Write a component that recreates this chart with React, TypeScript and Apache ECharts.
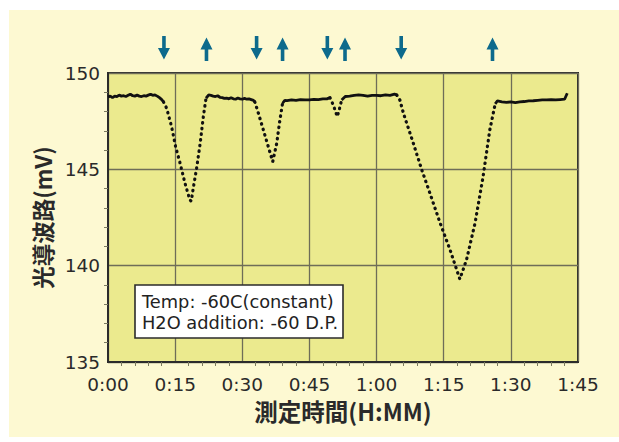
import React, { useEffect, useRef } from "react";
import * as echarts from "echarts";

// x: minutes since start, y: mV
const xTicks = [0, 15, 30, 45, 60, 75, 90, 105];
const yTicks = [135, 140, 145, 150];

const flat1 = [[0,148.75],[0.5,148.8],[1,148.72],[1.5,148.8],[2,148.78],[2.5,148.85],[3,148.8],[3.5,148.82],[4,148.78],[4.5,148.84],[5,148.9],[5.5,148.82],[6,148.8],[6.5,148.85],[7,148.8],[7.5,148.78],[8,148.82],[8.5,148.8],[9,148.85],[9.5,148.9],[10,148.84],[10.5,148.86],[11,148.8],[11.5,148.72],[12,148.62],[12.4,148.5]];
const dip1 = [[12.4,148.5],[13.1,148.17],[14.2,147.22],[15.1,146.18],[16.1,145.32],[17.2,144.28],[18.3,143.4],[18.6,143.35],[19.1,144.1],[19.8,145.06],[20.6,146.36],[21.3,147.74],[21.9,148.69]];
const flat2 = [[21.9,148.69],[22.5,148.86],[23,148.84],[23.5,148.8],[24,148.78],[24.5,148.82],[25,148.74],[25.5,148.72],[26,148.68],[26.5,148.7],[27,148.66],[27.5,148.72],[28,148.66],[28.5,148.64],[29,148.7],[29.5,148.66],[30,148.64],[30.5,148.68],[31,148.64],[31.5,148.66],[32,148.62],[32.5,148.58],[32.8,148.5]];
const dip2 = [[32.8,148.5],[33.6,147.91],[34.7,147.05],[35.8,146.18],[36.8,145.4],[37.7,146.36],[38.4,147.56],[39.0,148.43]];
const flat3 = [[39.0,148.43],[39.5,148.58],[40,148.56],[41,148.6],[42,148.58],[43,148.62],[44,148.6],[45,148.6],[46,148.63],[47,148.62],[48,148.66],[48.9,148.66],[49.6,148.72]];
const dip3 = [[49.6,148.72],[50.4,148.3],[51.2,147.74],[51.5,147.95],[52.2,148.6]];
const flat4 = [[52.2,148.6],[53,148.78],[54,148.8],[55,148.84],[56,148.86],[57,148.84],[58,148.8],[59,148.84],[60,148.84],[61,148.82],[62,148.86],[63,148.84],[64,148.9],[64.5,148.86]];
const dip4 = [[64.5,148.86],[65.2,148.6],[66.0,147.91],[68.2,146.36],[70.1,144.97],[71.9,143.77],[74.2,142.21],[76.4,140.83],[78.6,139.3],[80.1,140.31],[82.0,142.21],[83.8,144.63],[85.3,147.05],[86.5,148.4]];
const flat5 = [[86.5,148.4],[87,148.55],[88,148.5],[89,148.48],[90,148.5],[91,148.46],[92,148.5],[93,148.52],[94,148.55],[95,148.56],[96,148.58],[97,148.6],[98,148.6],[99,148.62],[100,148.6],[101,148.62],[102,148.64],[102.6,148.95]];

const downArrowTimes = [12.5, 33.2, 49.0, 65.5];
const upArrowTimes = [22.0, 39.0, 52.95, 85.9];

const noteLines = ["Temp: -60C(constant)", "H2O addition: -60 D.P."];

const fmtTime = (v: number) => {
  const h = Math.floor(v / 60);
  const m = Math.round(v % 60);
  return `${h}:${m < 10 ? "0" + m : m}`;
};

export default function App() {
  const ref = useRef<HTMLDivElement>(null);
  useEffect(() => {
    document.body.style.margin = "0";
    const chart = echarts.init(ref.current!, null, { renderer: "svg" });
    const flats = [flat1, flat2, flat3, flat4, flat5];
    const dips = [dip1, dip2, dip3, dip4];
    const series: any[] = [];
    flats.forEach((d) =>
      series.push({
        type: "line",
        data: d,
        showSymbol: false,
        symbol: "none",
        lineStyle: { color: "#111", width: 2.8 },
        z: 5,
      })
    );
    dips.forEach((d) =>
      series.push({
        type: "line",
        data: d,
        showSymbol: false,
        symbol: "none",
        lineStyle: { color: "#111", width: 3.2, type: [0.5, 5.2], cap: "round" },
        z: 5,
      })
    );
    chart.setOption({
      animation: false,
      backgroundColor: "#ffffff",
      grid: {
        left: 108,
        right: 41,
        top: 73,
        bottom: 80,
        show: true,
        backgroundColor: "#ebea8e",
        borderColor: "#2b2b2b",
        borderWidth: 2,
      },
      xAxis: {
        type: "value",
        min: 0,
        max: 105,
        interval: 15,
        name: "測定時間(H:MM)",
        nameLocation: "middle",
        nameGap: 35,
        nameTextStyle: {
          fontFamily: "'Noto Sans CJK JP', sans-serif",
          fontSize: 23.5,
          fontWeight: "bold",
          color: "#2a2a2a",
        },
        axisLine: { show: true, lineStyle: { color: "#2b2b2b", width: 2 } },
        axisTick: { show: false },
        minorTick: { show: true, splitNumber: 5, length: 4, lineStyle: { color: "#7a7a60", width: 1 } },
        axisLabel: {
          formatter: (v: number) => fmtTime(v),
          fontFamily: "'DejaVu Sans', sans-serif",
          fontSize: 18.5,
          color: "#2a2a2a",
          margin: 13,
          customValues: xTicks,
        },
        splitLine: { show: true, lineStyle: { color: "#6e6d58", width: 1.3 } },
      },
      yAxis: {
        type: "value",
        min: 135,
        max: 150,
        interval: 5,
        name: "光導波路(mV)",
        nameLocation: "middle",
        nameRotate: 90,
        nameGap: 55,
        nameTextStyle: {
          fontFamily: "'Noto Sans CJK JP', sans-serif",
          fontSize: 22.5,
          fontWeight: "bold",
          color: "#2a2a2a",
        },
        axisLine: { show: true, lineStyle: { color: "#2b2b2b", width: 2 } },
        axisTick: { show: false },
        minorTick: { show: true, splitNumber: 5, length: 4, lineStyle: { color: "#7a7a60", width: 1 } },
        axisLabel: {
          fontFamily: "'DejaVu Sans', sans-serif",
          fontSize: 18.5,
          color: "#2a2a2a",
          margin: 8,
          customValues: yTicks,
        },
        splitLine: { show: true, lineStyle: { color: "#6e6d58", width: 1.3 } },
      },
      series,
    });

    const arrowColor = "#0d6a8c";
    const arrows: any[] = [];
    downArrowTimes.forEach((t) => {
      const x = chart.convertToPixel({ xAxisIndex: 0 }, t) as number;
      arrows.push({
        type: "polygon",
        shape: {
          points: [
            [x - 1.8, 36], [x + 1.8, 36], [x + 1.8, 48], [x + 6, 48], [x, 59.5], [x - 6, 48], [x - 1.8, 48],
          ],
        },
        style: { fill: arrowColor },
      });
    });
    upArrowTimes.forEach((t) => {
      const x = chart.convertToPixel({ xAxisIndex: 0 }, t) as number;
      arrows.push({
        type: "polygon",
        shape: {
          points: [
            [x, 37.5], [x + 6, 49.5], [x + 1.8, 49.5], [x + 1.8, 61], [x - 1.8, 61], [x - 1.8, 49.5], [x - 6, 49.5],
          ],
        },
        style: { fill: arrowColor },
      });
    });

    chart.setOption({
      graphic: [
        {
          type: "rect",
          z: -10,
          zlevel: 0,
          silent: true,
          shape: { x: 9, y: 10, width: 610, height: 427 },
          style: { fill: "#fdf9d2" },
        },
        ...arrows,
        {
          type: "group",
          z: 100,
          children: [
            {
              type: "rect",
              shape: { x: 135, y: 285, width: 208, height: 53 },
              style: { fill: "#ffffff", stroke: "#2b2b2b", lineWidth: 1.6 },
            },
            {
              type: "text",
              x: 142,
              y: 301,
              style: {
                text: noteLines[0],
                fontFamily: "'DejaVu Sans', sans-serif",
                fontSize: 17.8,
                fill: "#222",
                verticalAlign: "middle",
              },
            },
            {
              type: "text",
              x: 142,
              y: 322,
              style: {
                text: noteLines[1],
                fontFamily: "'DejaVu Sans', sans-serif",
                fontSize: 17.8,
                fill: "#222",
                verticalAlign: "middle",
              },
            },
          ],
        },
      ],
    });
    return () => chart.dispose();
  }, []);
  return <div ref={ref} style={{ position: "fixed", left: 0, top: 0, width: 619, height: 442 }} />;
}
